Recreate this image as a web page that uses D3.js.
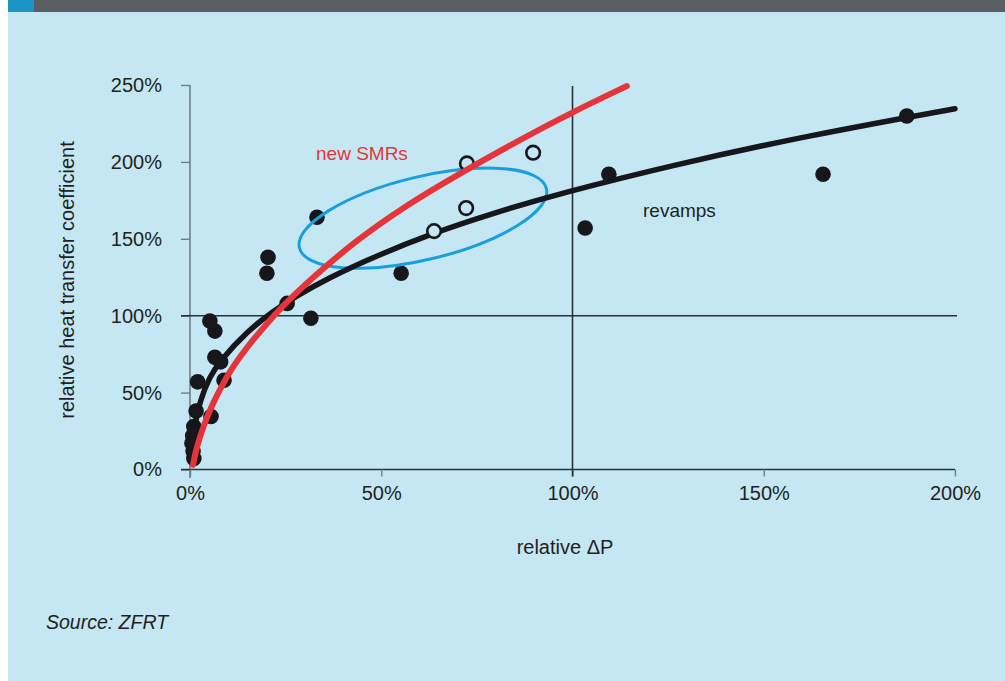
<!DOCTYPE html>
<html><head><meta charset="utf-8">
<script src="https://cdn.jsdelivr.net/npm/d3@7"></script>
<style>
html,body{margin:0;padding:0;background:#fff;}
svg{display:block;}
text{font-family:"Liberation Sans",Arial,sans-serif;fill:#231f20;}
</style></head>
<body><svg id="c" width="1005" height="681"></svg>
<script>
// ---- data (percent values) ----
const xTicks = [0, 50, 100, 150, 200];
const yTicks = [0, 50, 100, 150, 200, 250];
// revamps: filled points [relative dP %, relative HTC %]
const revampX = [1.0, 0.8, 0.5, 0.7, 1.0, 1.6, 5.5, 2.0, 8.9, 6.5, 8.0, 6.5, 5.2, 20.1, 20.4, 25.4, 31.6, 33.2, 55.2, 103.3, 109.5, 165.5, 187.4];
const revampY = [7.2, 12, 17, 22, 28, 38, 34.5, 57, 58, 73, 70, 90, 96.6, 127.6, 138, 108, 98.3, 164, 127.6, 157, 192, 192, 229.8];
// new SMRs: open points
const smrX = [63.8, 72.2, 72.4, 89.7];
const smrY = [155, 170, 199, 206];
// fitted trend lines
const revampCurveX = [0.3, 1.0, 2.6, 5.2, 7.8, 14.9, 21.7, 28.0, 35.8, 47.8, 63.8, 78.4, 96.7, 126.3, 161.3, 200];
const revampCurveY = [8, 26, 45, 60.5, 70.5, 89.8, 103, 113, 124, 138, 154, 166, 179.5, 198, 217, 234.6];
const smrCurveX = [0.8, 1.5, 2.6, 3.8, 5.2, 7.0, 8.6, 10.5, 13, 16.5, 20, 23.5, 31.4, 43.7, 56.7, 69.8, 87.1, 100, 114.2];
const smrCurveY = [3, 12, 21, 30, 38.5, 48, 55.5, 64, 73, 84.5, 94.5, 104.5, 123.5, 149.5, 172, 191.5, 215.5, 232.4, 249.3];
// ellipse annotation centre (data units)
const ellipseCenter = [60.9, 163.4];
const labels = {x: "relative \u0394P", y: "relative heat transfer coefficient", smr: "new SMRs", revamp: "revamps", source: "Source: ZFRT"};

// ---- drawing ----
const svg = d3.select("#c");
const BG = "#c4e7f3";
svg.append("rect").attr("x", 8).attr("y", 0).attr("width", 997).attr("height", 681).attr("fill", BG);
svg.append("rect").attr("x", 8).attr("y", 0).attr("width", 997).attr("height", 12).attr("fill", "#5a5e62");
svg.append("rect").attr("x", 8).attr("y", 0).attr("width", 26).attr("height", 12).attr("fill", "#1a95c6");

const x = d3.scaleLinear().domain([0, 200]).range([190, 955]);
const y = d3.scaleLinear().domain([0, 250]).range([469.5, 85]);

// axes
const yAx = svg.append("g").attr("transform", "translate(190,0)")
  .call(d3.axisLeft(y).tickValues(yTicks).tickSize(9).tickPadding(19).tickFormat(d => d + "%"));
yAx.select(".domain").attr("stroke", "#6d7f89").attr("stroke-width", 1.6).attr("d", `M0,${y(250)}V478`);
yAx.selectAll(".tick line").attr("stroke", "#6d7f89").attr("stroke-width", 1.4);
yAx.selectAll(".tick text").attr("font-size", 20).attr("fill", "#231f20").attr("font-family", "Liberation Sans, Arial, sans-serif");

const xAx = svg.append("g").attr("transform", `translate(0,${y(0)})`)
  .call(d3.axisBottom(x).tickValues(xTicks).tickSize(7).tickPadding(9).tickFormat(d => d + "%"));
xAx.select(".domain").attr("stroke", "#2b3035").attr("stroke-width", 1.6).attr("d", `M181,0H955`);
xAx.selectAll(".tick line").attr("stroke", "#6d7f89").attr("stroke-width", 1.4);
xAx.selectAll(".tick text").attr("font-size", 20).attr("fill", "#231f20").attr("font-family", "Liberation Sans, Arial, sans-serif");

// reference lines at 100%
svg.append("line").attr("x1", 181).attr("x2", x(200) + 2).attr("y1", y(100)).attr("y2", y(100))
  .attr("stroke", "#2b3035").attr("stroke-width", 1.6);
svg.append("line").attr("x1", x(100)).attr("x2", x(100)).attr("y1", 86).attr("y2", y(0) + 7)
  .attr("stroke", "#2b3035").attr("stroke-width", 1.6);

// filled revamp points
svg.append("g").selectAll("circle").data(revampX).join("circle")
  .attr("cx", (d, i) => x(d)).attr("cy", (d, i) => y(revampY[i])).attr("r", 7.8).attr("fill", "#16161b");

// ellipse
svg.append("ellipse").attr("cx", 0).attr("cy", 0).attr("rx", 127).attr("ry", 41.5)
  .attr("transform", `translate(${x(ellipseCenter[0])},${y(ellipseCenter[1])}) rotate(-13.5)`)
  .attr("fill", "none").attr("stroke", "#1a9fda").attr("stroke-width", 3);

const line = d3.line().curve(d3.curveBasis);
svg.append("path").attr("d", line(revampCurveX.map((d, i) => [x(d), y(revampCurveY[i])])))
  .attr("fill", "none").attr("stroke", "#16161b").attr("stroke-width", 5.5).attr("stroke-linecap", "round");

// open SMR points
svg.append("g").selectAll("circle").data(smrX).join("circle")
  .attr("cx", d => x(d)).attr("cy", (d, i) => y(smrY[i])).attr("r", 6.8)
  .attr("fill", BG).attr("stroke", "#16161b").attr("stroke-width", 2.6);

svg.append("path").attr("d", line(smrCurveX.map((d, i) => [x(d), y(smrCurveY[i])])))
  .attr("fill", "none").attr("stroke", "#e6353a").attr("stroke-width", 6).attr("stroke-linecap", "round");

// labels
svg.append("text").attr("x", 316).attr("y", 160).attr("font-size", 19).style("fill", "#e6353a").text(labels.smr);
svg.append("text").attr("x", 643).attr("y", 217).attr("font-size", 19).text(labels.revamp);
svg.append("text").attr("x", 565).attr("y", 554).attr("text-anchor", "middle").attr("font-size", 20).text(labels.x);
svg.append("text").attr("transform", "translate(74,280) rotate(-90)").attr("text-anchor", "middle").attr("font-size", 20).text(labels.y);
svg.append("text").attr("x", 46).attr("y", 629).attr("font-size", 19.5).attr("font-style", "italic").text(labels.source);
</script></body></html>
